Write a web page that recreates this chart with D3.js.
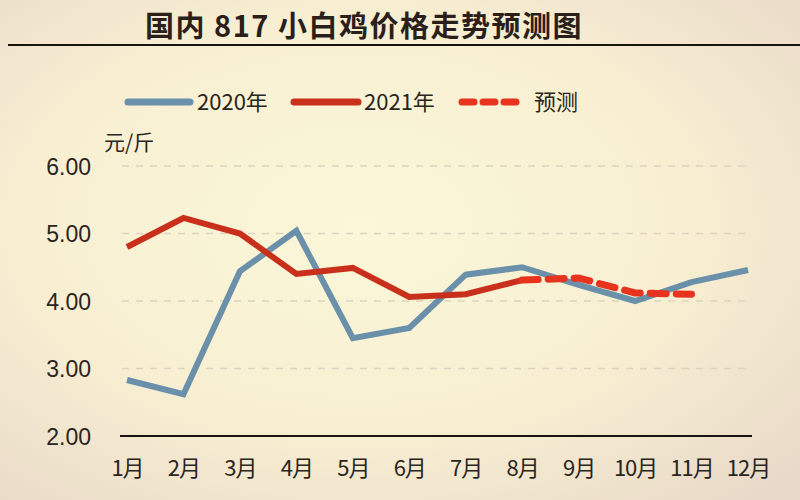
<!DOCTYPE html>
<html><head><meta charset="utf-8">
<script src="https://cdn.jsdelivr.net/npm/d3@7"></script>
<style>html,body{margin:0;padding:0;}svg{display:block;}</style>
</head><body>
<svg id="c" width="800" height="500"></svg>
<script>
const months = ["1月","2月","3月","4月","5月","6月","7月","8月","9月","10月","11月","12月"];
const yTicks = [2, 3, 4, 5, 6];
const series2020 = [2.83, 2.62, 4.44, 5.04, 3.45, 3.60, 4.39, 4.50, 4.24, 4.00, 4.28, 4.46];
const series2021 = [4.80, 5.23, 5.00, 4.40, 4.49, 4.06, 4.10, 4.31];
const forecastMonths = ["8月","9月","10月","11月"];
const forecast = [4.31, 4.34, 4.12, 4.10];

const svg = d3.select("#c");
const defs = svg.append("defs");
const g1 = defs.append("radialGradient").attr("id","bg").attr("cx","45%").attr("cy","45%").attr("r","75%");
g1.append("stop").attr("offset","0%").attr("stop-color","#fbf7d9");
g1.append("stop").attr("offset","55%").attr("stop-color","#f8efd2");
g1.append("stop").attr("offset","100%").attr("stop-color","#e8d8c8");
svg.append("rect").attr("width",800).attr("height",500).attr("fill","url(#bg)");

const font = "'Noto Sans CJK SC', 'Liberation Sans Narrow', sans-serif";

svg.append("text").attr("x",364).attr("y",37).attr("text-anchor","middle")
  .attr("font-family",font).attr("font-weight","bold").attr("font-size",29).attr("fill","#2a1f1a")
  .attr("letter-spacing",1.5)
  .text("国内 817 小白鸡价格走势预测图");
svg.append("line").attr("x1",8).attr("x2",800).attr("y1",45).attr("y2",45).attr("stroke","#1a1410").attr("stroke-width",2);

const x = d3.scalePoint().domain(months).range([127, 748]);
const y = d3.scaleLinear().domain([2, 6]).range([436, 166]);

// grid
svg.append("g").selectAll("line").data(yTicks.filter(d => d > 2)).join("line")
  .attr("x1",122).attr("x2",752).attr("y1",d=>y(d)).attr("y2",d=>y(d))
  .attr("stroke","#ddd3c2").attr("stroke-width",1.5).attr("stroke-dasharray","7,7");

// y axis labels
const ya = svg.append("g").attr("transform","translate(91,0)")
  .call(d3.axisLeft(y).tickValues(yTicks).tickFormat(d3.format(".2f")).tickSize(0).tickPadding(0));
ya.select(".domain").remove();
ya.selectAll("text").attr("font-family","'Liberation Sans', sans-serif").attr("font-size",23).attr("fill","#2a2520").attr("dy","0.35em");

// x axis
const xa = svg.append("g").attr("transform","translate(0,436)")
  .call(d3.axisBottom(x).tickSize(0).tickPadding(32));
xa.select(".domain").attr("d","M120,0H752").attr("stroke","#1a1410").attr("stroke-width",2);
xa.selectAll("text").attr("font-family",font).attr("font-size",22).attr("fill","#2a2520").attr("dy","0.35em")
  .attr("letter-spacing",-1);

svg.append("text").attr("x",104).attr("y",150).attr("font-family",font).attr("font-size",21).attr("fill","#2a2520").text("元/斤");

const line = d3.line().x((d,i)=>x(months[i])).y(d=>y(d));
svg.append("path").datum(series2020).attr("d",line).attr("fill","none")
  .attr("stroke","#6b90aa").attr("stroke-width",6).attr("stroke-linejoin","miter");
svg.append("path").datum(series2021).attr("d",line).attr("fill","none")
  .attr("stroke","#c9301b").attr("stroke-width",6);
const fline = d3.line().x((d,i)=>x(forecastMonths[i])).y(d=>y(d));
svg.append("path").datum(forecast).attr("d",fline).attr("fill","none")
  .attr("stroke","#e8331f").attr("stroke-width",7).attr("stroke-dasharray","16,10").attr("stroke-linecap","round");

// legend
const leg = [
  {label:"2020年", color:"#6b90aa", x1:128, x2:190, tx:197, dash:null},
  {label:"2021年", color:"#c9301b", x1:294, x2:358, tx:364, dash:null},
  {label:"预测", color:"#e8331f", x1:462, x2:518, tx:534, dash:"12,9"}
];
const lg = svg.append("g");
leg.forEach(d => {
  lg.append("line").attr("x1",d.x1).attr("x2",d.x2).attr("y1",102).attr("y2",102)
    .attr("stroke",d.color).attr("stroke-width",7).attr("stroke-linecap","round")
    .attr("stroke-dasharray",d.dash);
  lg.append("text").attr("x",d.tx).attr("y",102).attr("dy","0.35em")
    .attr("font-family",font).attr("font-size",22).attr("fill","#2a2520").text(d.label);
});
</script>
</body></html>
